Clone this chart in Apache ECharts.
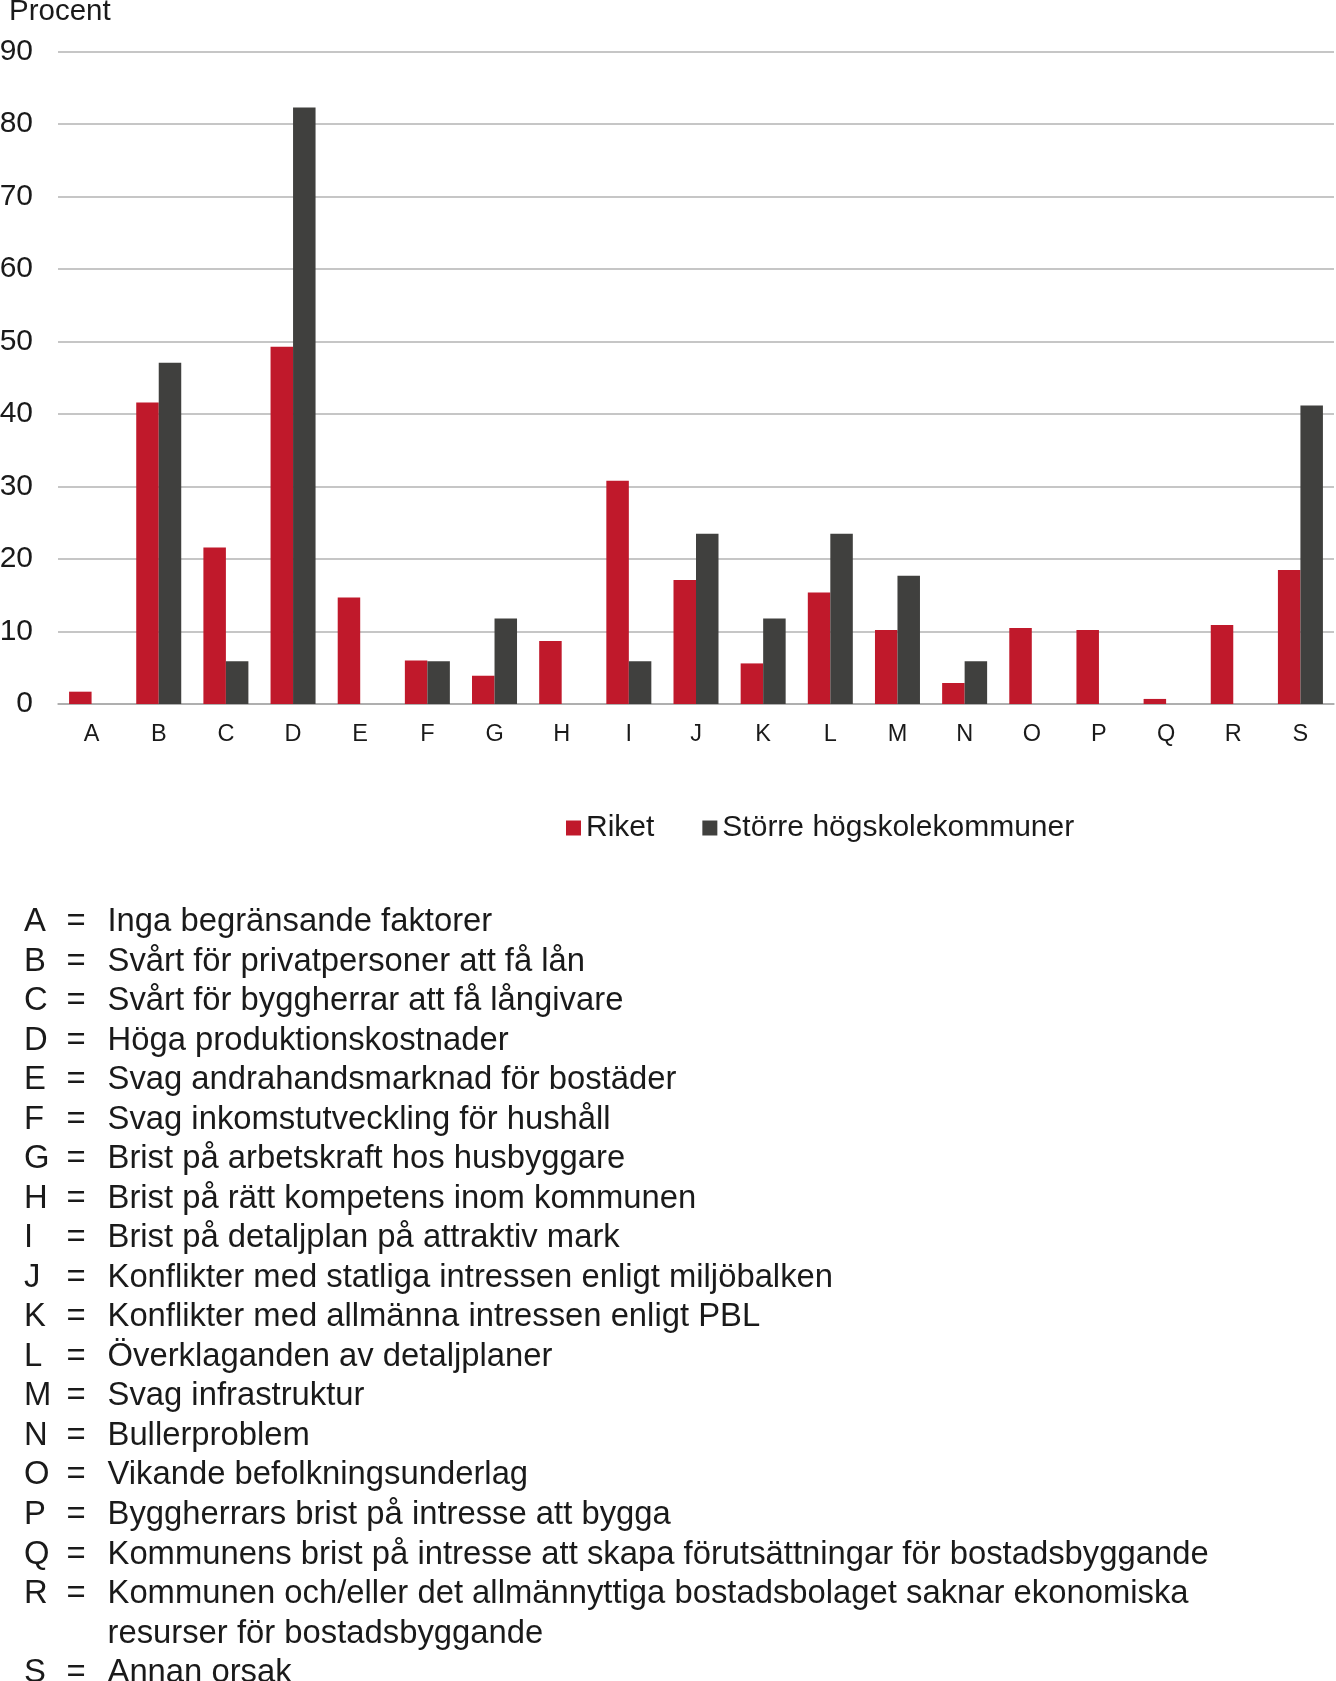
<!DOCTYPE html>
<html lang="sv">
<head>
<meta charset="utf-8">
<title>Begränsande faktorer för bostadsbyggandet</title>
<script src="https://cdn.jsdelivr.net/npm/echarts@6/dist/echarts.min.js"></script>
<style>
  html, body { margin: 0; padding: 0; background: #fff; }
  #chart { width: 1336px; height: 1681px; }
</style>
</head>
<body>
<div id="chart"></div>
<script>
  const categories = ['A', 'B', 'C', 'D', 'E', 'F', 'G', 'H', 'I', 'J', 'K', 'L', 'M', 'N', 'O', 'P', 'Q', 'R', 'S'];
  const seriesNames = ['Riket', 'Större högskolekommuner'];
  const riket = [1.7, 41.6, 21.6, 49.3, 14.7, 6.0, 3.9, 8.7, 30.8, 17.1, 5.6, 15.4, 10.2, 2.9, 10.5, 10.2, 0.7, 10.9, 18.5];
  const hogskole = [null, 47.1, 5.9, 82.3, null, 5.9, 11.8, null, 5.9, 23.5, 11.8, 23.5, 17.7, 5.9, null, null, null, null, 41.2];
  const yMin = 0;
  const yMax = 90;
  const yStep = 10;
  const yTitle = 'Procent';
  const descriptions = [
    'Inga begränsande faktorer',
    'Svårt för privatpersoner att få lån',
    'Svårt för byggherrar att få långivare',
    'Höga produktionskostnader',
    'Svag andrahandsmarknad för bostäder',
    'Svag inkomstutveckling för hushåll',
    'Brist på arbetskraft hos husbyggare',
    'Brist på rätt kompetens inom kommunen',
    'Brist på detaljplan på attraktiv mark',
    'Konflikter med statliga intressen enligt miljöbalken',
    'Konflikter med allmänna intressen enligt PBL',
    'Överklaganden av detaljplaner',
    'Svag infrastruktur',
    'Bullerproblem',
    'Vikande befolkningsunderlag',
    'Byggherrars brist på intresse att bygga',
    'Kommunens brist på intresse att skapa förutsättningar för bostadsbyggande',
    'Kommunen och/eller det allmännyttiga bostadsbolaget saknar ekonomiska\nresurser för bostadsbyggande',
    'Annan orsak'
  ];

  const FONT = '"Liberation Sans", Arial, Helvetica, sans-serif';
  const TEXT = '#1a1a1a';
  const chart = echarts.init(document.getElementById('chart'));

  // key list under the chart: letter, "=", description (R wraps onto two rows)
  const ROW = 39.53;
  const keyText = [];
  let row = 0;
  categories.forEach((cat, i) => {
    const lines = descriptions[i].split('\n');
    const y = 922 + row * ROW;
    const style = { fill: TEXT, font: '32.8px ' + FONT, verticalAlign: 'middle' };
    keyText.push({ type: 'text', x: 24, y: y, style: Object.assign({ text: cat }, style) });
    keyText.push({ type: 'text', x: 66.5, y: y, style: Object.assign({ text: '=' }, style) });
    lines.forEach((line, k) => {
      keyText.push({
        type: 'text', x: 107.5, y: y + k * ROW,
        style: Object.assign({ text: line }, style)
      });
    });
    row += lines.length;
  });

  chart.setOption({
    animation: false,
    color: ['#c0192b', '#40403e'],
    textStyle: { fontFamily: FONT, color: TEXT },
    grid: { left: 58, right: 2, top: 51.7, bottom: 977, outerBoundsMode: 'none' },
    legend: {
      data: seriesNames,
      left: 566,
      top: 813,
      padding: 0,
      icon: 'rect',
      itemWidth: 15,
      itemHeight: 15,
      itemGap: 48,
      textStyle: { fontSize: 30, color: TEXT, fontFamily: FONT }
    },
    xAxis: {
      type: 'category',
      data: categories,
      axisLine: { lineStyle: { color: '#a8a8a8', width: 1.5 } },
      axisTick: { length: 8, lineStyle: { color: '#b8b8b8', width: 1.5 } },
      axisLabel: { fontSize: 23.5, color: TEXT, margin: 19 }
    },
    yAxis: {
      type: 'value',
      min: yMin,
      max: yMax,
      interval: yStep,
      axisLine: { show: false },
      axisTick: { show: false },
      axisLabel: { fontSize: 30, color: TEXT, margin: 25 },
      splitLine: { lineStyle: { color: '#b3b3b3', width: 1.5 } }
    },
    series: [
      { name: seriesNames[0], type: 'bar', data: riket, barWidth: 22.5, barGap: '0%' },
      { name: seriesNames[1], type: 'bar', data: hogskole, barWidth: 22.5, barGap: '0%' }
    ],
    graphic: [
      {
        type: 'text', x: 9, y: 12,
        style: { text: yTitle, fill: TEXT, font: '29.5px ' + FONT, verticalAlign: 'middle' }
      }
    ].concat(keyText)
  });

  window.addEventListener('resize', () => chart.resize());
</script>
</body>
</html>
